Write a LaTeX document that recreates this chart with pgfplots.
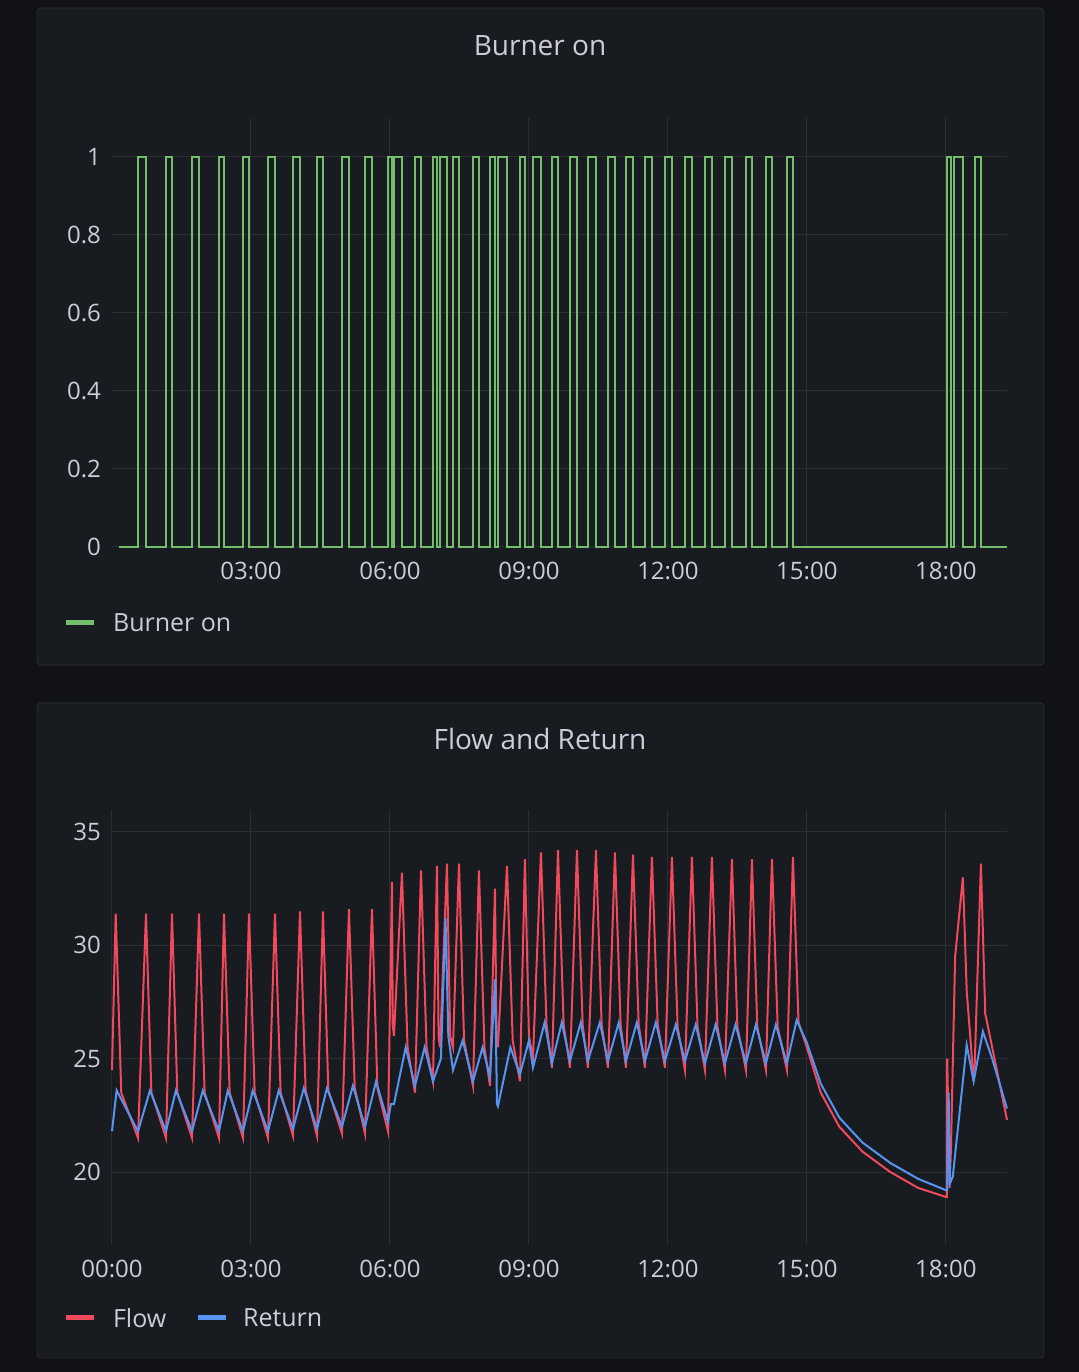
\documentclass[border=0pt]{standalone}
\usepackage{pgfplots}
\pgfplotsset{compat=1.18}
\usepackage{fontspec}
\setmainfont{Open Sans}
\definecolor{bg}{HTML}{111217}
\definecolor{panel}{HTML}{181B1F}
\definecolor{pborder}{HTML}{2A2D33}
\definecolor{txt}{HTML}{CCCCDC}
\definecolor{gridc}{HTML}{2B2E34}
\definecolor{fgreen}{HTML}{73BF69}
\definecolor{fred}{HTML}{F2495C}
\definecolor{fblue}{HTML}{5794F2}
\pgfplotsset{
  myax/.style={scale only axis, width=447.5pt, xmin=0, xmax=19.32,
    axis line style={draw=none}, tick style={draw=none},
    grid=major, grid style={gridc, line width=0.5pt},
    ticklabel style={text=txt, font=\fontsize{12}{14}\selectfont},
    /pgf/number format/assume math mode=true,
    clip=false}
}
\begin{document}
\begin{tikzpicture}[x=1pt,y=1pt]
\fill[bg] (0,0) rectangle (539.5,686);
\filldraw[fill=panel, draw=pborder, rounded corners=2pt] (18.5,353.5) rectangle (522,682);
\filldraw[fill=panel, draw=pborder, rounded corners=2pt] (18.5,7) rectangle (522,334.5);
\node[text=txt, font=\fontsize{14}{16}\selectfont] at (270,663) {Burner on};
\node[text=txt, font=\fontsize{14}{16}\selectfont] at (270,316.5) {Flow and Return};
\begin{axis}[myax, at={(56pt,412.5pt)}, anchor=south west, height=214.5pt,
  ymin=0, ymax=1.1, ytick={0,0.2,0.4,0.6,0.8,1},
  yticklabels={0,0.2,0.4,0.6,0.8,1},
  xtick={3,6,9,12,15,18}, xticklabels={03:00,06:00,09:00,12:00,15:00,18:00},
  xticklabel style={yshift=-4pt}, yticklabel style={xshift=-2pt}]
\addplot[const plot, fgreen, line width=1pt] coordinates {
(0.151,0)(0.561,1)(0.734,0)(1.166,1)(1.295,0)(1.727,1)(1.878,0)(2.309,1)(2.417,0)
(2.828,1)(2.957,0)(3.367,1)(3.518,0)(3.907,1)(4.058,0)(4.425,1)(4.554,0)
(4.964,1)(5.115,0)(5.461,1)(5.612,0)(5.957,1)(6.044,0)(6.087,1)(6.259,0)
(6.540,1)(6.670,0)(6.929,1)(7.015,0)(7.080,1)(7.231,0)(7.360,1)(7.490,0)
(7.792,1)(7.921,0)(8.159,1)(8.267,0)(8.331,1)(8.526,0)(8.806,1)(8.914,0)
(9.087,1)(9.260,0)(9.497,1)(9.627,0)(9.886,1)(10.037,0)(10.274,1)(10.447,0)
(10.706,1)(10.857,0)(11.095,1)(11.246,0)(11.505,1)(11.655,0)(11.936,1)(12.087,0)
(12.368,1)(12.519,0)(12.799,1)(12.950,0)(13.231,1)(13.382,0)(13.685,1)(13.814,0)
(14.116,1)(14.246,0)(14.569,1)(14.699,0)(18.023,1)(18.109,0)(18.174,1)(18.368,0)
(18.627,1)(18.757,0)(19.318,0)};
\end{axis}
\draw[fgreen, line width=2.5pt] (33,374.5) -- (47,374.5);
\node[anchor=west, text=txt, font=\fontsize{12.5}{14}\selectfont] at (53,374.5) {Burner on};
\begin{axis}[myax, at={(56pt,63.5pt)}, anchor=south west, height=217.5pt,
  ymin=16.78, ymax=35.97, ytick={20,25,30,35},
  xtick={0,3,6,9,12,15,18}, xticklabels={00:00,03:00,06:00,09:00,12:00,15:00,18:00},
  xticklabel style={yshift=-4pt}, yticklabel style={xshift=-2pt}]
\addplot[fred, line width=1pt] coordinates {
(0,24.5)(0.08,31.4)(0.2,23.5)(0.561,21.5)
(0.734,31.4)(0.85,23.5)(1.166,21.5)(1.295,31.4)(1.41,23.5)(1.727,21.5)
(1.878,31.4)(2.0,23.5)(2.309,21.5)(2.417,31.4)(2.54,23.5)(2.828,21.5)
(2.957,31.4)(3.08,23.5)(3.367,21.5)(3.518,31.4)(3.64,23.5)(3.907,21.6)
(4.058,31.5)(4.18,23.6)(4.425,21.6)(4.554,31.5)(4.67,23.6)(4.964,21.7)
(5.115,31.6)(5.24,23.7)(5.461,21.7)(5.612,31.6)(5.73,23.7)(5.957,21.8)
(6.044,32.8)(6.06,26.5)(6.087,26)(6.259,33.2)(6.38,25.5)(6.54,23.5)
(6.670,33.3)(6.79,25.5)(6.929,24.0)(7.015,33.5)(7.05,26)(7.08,25.5)
(7.231,33.6)(7.30,26)(7.36,25.5)(7.49,33.6)(7.6,25.8)(7.792,23.8)
(7.921,33.3)(8.04,25.5)(8.159,23.8)(8.267,32.5)(8.30,26)(8.331,25.5)
(8.526,33.5)(8.65,25.8)(8.806,24)(8.914,33.8)(9.0,26)(9.087,25)
(9.260,34.1)(9.38,26.5)(9.497,24.6)(9.627,34.2)(9.75,26.5)(9.886,24.6)
(10.037,34.2)(10.16,26.5)(10.274,24.6)(10.447,34.2)(10.57,26.5)(10.706,24.6)
(10.857,34.1)(10.98,26.5)(11.095,24.6)(11.246,34.0)(11.37,26.5)(11.505,24.6)
(11.655,33.9)(11.78,26.5)(11.936,24.6)(12.087,33.9)(12.21,26.4)(12.368,24.5)
(12.519,33.9)(12.64,26.4)(12.799,24.5)(12.950,33.9)(13.07,26.4)(13.231,24.5)
(13.382,33.8)(13.5,26.4)(13.685,24.5)(13.814,33.8)(13.93,26.4)(14.116,24.5)
(14.246,33.8)(14.37,26.4)(14.569,24.5)(14.699,33.9)(14.82,26.6)
(15.0,25.5)(15.3,23.5)(15.7,22.0)(16.2,20.9)(16.8,20.0)(17.4,19.3)(18.0,18.9)
(18.02,18.9)(18.03,25)(18.08,19.3)(18.11,21)(18.2,29.5)(18.368,33.0)(18.45,28)
(18.6,24)(18.62,24.5)(18.757,33.6)(18.85,27)(19.0,25.5)(19.32,22.3)};
\addplot[fblue, line width=1pt] coordinates {
(0,21.8)(0.1,23.6)(0.561,21.8)(0.82,23.6)(1.166,21.8)(1.38,23.6)(1.727,21.8)
(1.96,23.6)(2.309,21.8)(2.50,23.6)(2.828,21.8)(3.04,23.6)(3.367,21.8)(3.60,23.6)
(3.907,21.9)(4.14,23.7)(4.425,21.9)(4.64,23.7)(4.964,22.0)(5.20,23.8)(5.461,22.0)
(5.70,24.0)(5.957,22.2)(6.02,23)(6.087,23)(6.34,25.5)(6.54,23.8)(6.75,25.5)
(6.929,24.0)(7.10,25)(7.2,31.2)(7.26,26)(7.36,24.5)(7.57,25.8)(7.792,24.0)
(8.0,25.5)(8.159,24.2)(8.27,28.5)(8.31,23)(8.331,22.9)(8.6,25.5)(8.806,24.3)
(9.0,25.8)(9.087,24.6)(9.34,26.6)(9.497,24.8)(9.71,26.6)(9.886,24.9)(10.12,26.6)
(10.274,24.9)(10.53,26.6)(10.706,24.9)(10.94,26.6)(11.095,24.9)(11.33,26.6)
(11.505,24.9)(11.74,26.6)(11.936,24.9)(12.17,26.5)(12.368,24.9)(12.6,26.5)
(12.799,24.8)(13.03,26.5)(13.231,24.8)(13.46,26.5)(13.685,24.8)(13.9,26.5)
(14.116,24.8)(14.33,26.5)(14.569,24.8)(14.78,26.7)(15.0,25.7)(15.3,23.9)
(15.7,22.4)(16.2,21.3)(16.8,20.4)(17.4,19.7)(18.0,19.2)(18.03,19.2)(18.06,23.5)
(18.09,19.5)(18.15,19.8)(18.45,25.6)(18.6,24.0)(18.8,26.2)(19.0,25.0)(19.32,22.8)};
\end{axis}
\draw[fred, line width=2.5pt] (33,27) -- (47,27);
\node[anchor=west, text=txt, font=\fontsize{12.5}{14}\selectfont] at (53,27) {Flow};
\draw[fblue, line width=2.5pt] (99,27) -- (113,27);
\node[anchor=west, text=txt, font=\fontsize{12.5}{14}\selectfont] at (118,27) {Return};
\end{tikzpicture}
\end{document}
